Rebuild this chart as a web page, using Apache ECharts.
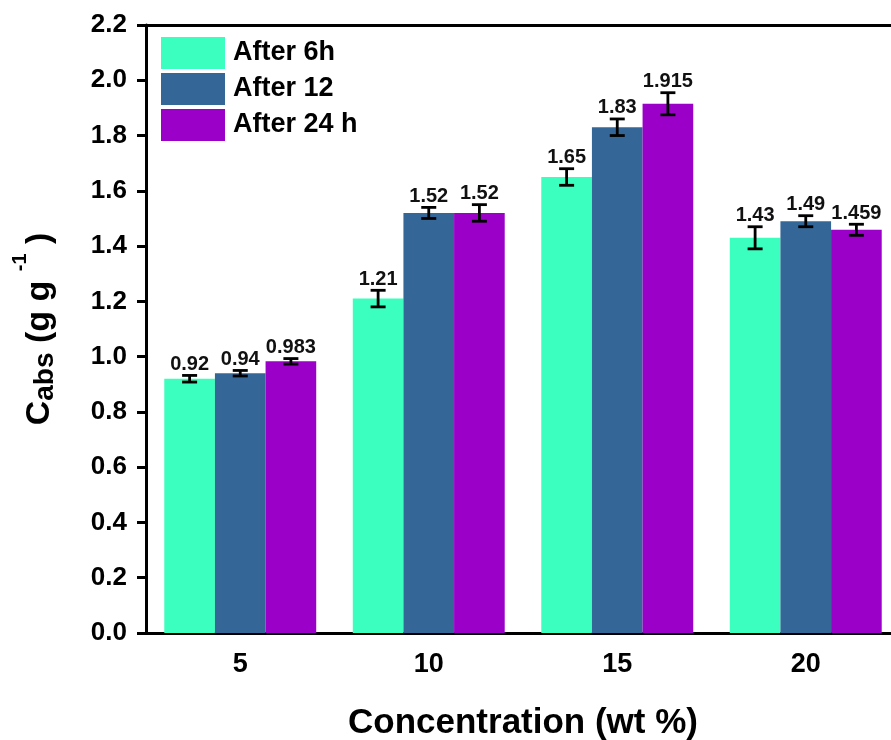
<!DOCTYPE html>
<html><head><meta charset="utf-8">
<script src="https://cdn.jsdelivr.net/npm/echarts@6/dist/echarts.min.js"></script>
<style>html,body{margin:0;padding:0;background:#fff;overflow:hidden}#c{width:900px;height:740px}</style>
</head><body><div id="c"></div>
<script>
const categories = ['5', '10', '15', '20'];
const seriesNames = ['After 6h', 'After 12', 'After 24 h'];
const after6h = [0.92, 1.21, 1.65, 1.43];
const after12 = [0.94, 1.52, 1.83, 1.49];
const after24h = [0.983, 1.52, 1.915, 1.459];
const err6h = [0.012, 0.03, 0.03, 0.04];
const err12 = [0.01, 0.02, 0.03, 0.02];
const err24h = [0.01, 0.03, 0.04, 0.02];
const yMin = 0, yMax = 2.2, yInterval = 0.2;

const colors = ['#3BFFBE', '#346798', '#9B00C9'];
const GAP = 0.194;
const FONT = '"Liberation Sans", Arial, sans-serif';

function errSeries(idx, vals, errs) {
  return {
    type: 'custom',
    z: 10,
    silent: true,
    data: vals.map((v, i) => [i, v, errs[i]]),
    renderItem: function (params, api) {
      const ci = api.value(0), v = api.value(1), e = api.value(2);
      const band = api.size([1, 0])[0];
      const bw = band * (1 - GAP) / 3;
      const c = api.coord([ci, v]);
      const x = c[0] + (idx - 1) * bw;
      const yt = api.coord([ci, v + e])[1];
      const yb = api.coord([ci, v - e])[1];
      const hw = 7.5;
      const st = { stroke: '#000', lineWidth: 2.8 };
      return {
        type: 'group',
        children: [
          { type: 'line', shape: { x1: x, y1: yt, x2: x, y2: yb }, style: st },
          { type: 'line', shape: { x1: x - hw, y1: yt, x2: x + hw, y2: yt }, style: st },
          { type: 'line', shape: { x1: x - hw, y1: yb, x2: x + hw, y2: yb }, style: st },
          { type: 'text', x: x, y: yt - 1, style: { text: String(v), font: 'bold 20px ' + FONT, fill: '#111', align: 'center', verticalAlign: 'bottom' } }
        ]
      };
    }
  };
}

const chart = echarts.init(document.getElementById('c'));
chart.setOption({
  animation: false,
  backgroundColor: '#fff',
  grid: { left: 146, right: 0, top: 25, bottom: 107, containLabel: false, outerBoundsMode: 'none' },
  legend: {
    orient: 'vertical', left: 161, top: 37, padding: 0,
    itemWidth: 64, itemHeight: 32, itemGap: 4,
    icon: 'rect',
    data: seriesNames,
    textStyle: { fontFamily: FONT, fontWeight: 'bold', fontSize: 27, color: '#000', padding: [0, 0, 0, 3] }
  },
  xAxis: [{
    type: 'category', data: categories,
    axisLine: { lineStyle: { color: '#000', width: 3 } },
    axisTick: { show: false },
    axisLabel: { fontFamily: FONT, fontWeight: 'bold', fontSize: 27, color: '#000', margin: 18 },
    name: 'Concentration (wt %)', nameLocation: 'middle', nameGap: 73,
    nameTextStyle: { fontFamily: FONT, fontWeight: 'bold', fontSize: 35, color: '#000' }
  }, {
    type: 'category', data: categories, position: 'top',
    axisLine: { lineStyle: { color: '#000', width: 3 } },
    axisTick: { show: false }, axisLabel: { show: false }
  }],
  yAxis: {
    type: 'value', min: yMin, max: yMax, interval: yInterval,
    axisLine: { show: true, lineStyle: { color: '#000', width: 3 } },
    axisTick: { show: true, length: 9, lineStyle: { color: '#000', width: 3 } },
    splitLine: { show: false },
    axisLabel: { fontFamily: FONT, fontWeight: 'bold', fontSize: 26, color: '#000', margin: 19, formatter: v => v.toFixed(1) },
    name: '{c|C}{sub|abs}{n| (g g }{sup|-1}{n| )}',
    nameLocation: 'middle', nameRotate: 90, nameGap: 86,
    nameTextStyle: {
      color: '#000',
      rich: {
        c: { fontFamily: FONT, fontWeight: 'bold', fontSize: 34, lineHeight: 40, color: '#000' },
        n: { fontFamily: FONT, fontWeight: 'bold', fontSize: 34, lineHeight: 40, color: '#000' },
        sub: { fontFamily: FONT, fontWeight: 'bold', fontSize: 28, lineHeight: 20, padding: [10, 0, 0, 0], color: '#000' },
        sup: { fontFamily: FONT, fontWeight: 'bold', fontSize: 20, lineHeight: 20, padding: [0, 0, 40, 0], color: '#000' }
      }
    }
  },
  series: [
    { name: seriesNames[0], type: 'bar', data: after6h, itemStyle: { color: colors[0] }, barGap: '0%', barCategoryGap: (GAP * 100) + '%' },
    { name: seriesNames[1], type: 'bar', data: after12, itemStyle: { color: colors[1] }, barGap: '0%', barCategoryGap: (GAP * 100) + '%' },
    { name: seriesNames[2], type: 'bar', data: after24h, itemStyle: { color: colors[2] }, barGap: '0%', barCategoryGap: (GAP * 100) + '%' },
    errSeries(0, after6h, err6h),
    errSeries(1, after12, err12),
    errSeries(2, after24h, err24h)
  ]
});
</script></body></html>
